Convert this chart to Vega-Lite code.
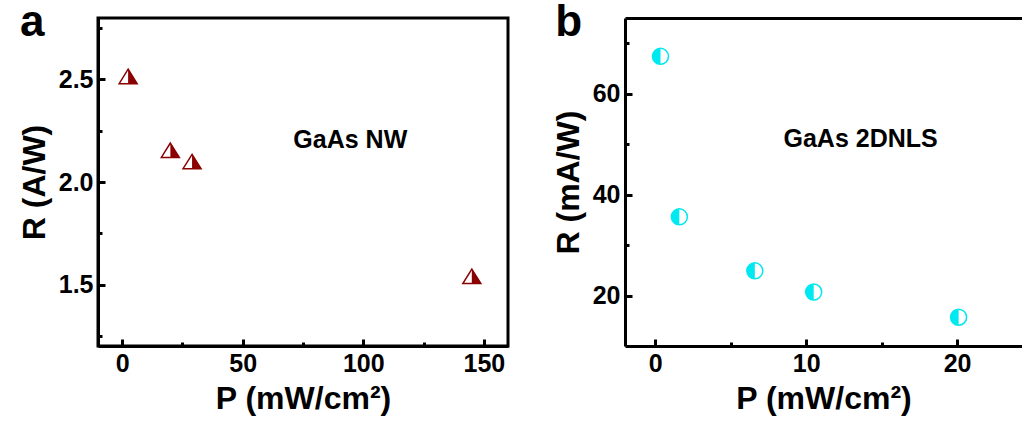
{
  "$schema": "https://vega.github.io/schema/vega-lite/v6.json",
  "background": "white",
  "padding": {"left": 16, "top": -1, "right": 0, "bottom": 0},
  "spacing": 42,
  "datasets": {
    "nw": [
      {"P": 2.5, "R": 2.515},
      {"P": 20, "R": 2.155},
      {"P": 29, "R": 2.1},
      {"P": 145, "R": 1.54}
    ],
    "nls": [
      {"P": 0.35, "R": 67.4},
      {"P": 1.6, "R": 35.6},
      {"P": 6.6, "R": 24.9},
      {"P": 10.5, "R": 20.7},
      {"P": 20.1, "R": 15.7}
    ],
    "labA": [{"P": 71, "R": 2.165, "t": "GaAs NW"}],
    "labB": [{"P": 8.5, "R": 49.4, "t": "GaAs 2DNLS"}],
    "panA": [{"P": -42.3, "R": 2.712, "t": "a"}],
    "panB": [{"P": -6.62, "R": 71.4, "t": "b"}]
  },
  "hconcat": [
    {
      "width": 410,
      "height": 328,
      "encoding": {
        "x": {"field": "P", "type": "quantitative", "scale": {"domain": [-10, 160], "nice": false, "zero": false},
          "axis": {"title": "P (mW/cm²)", "values": [0, 25, 50, 75, 100, 125, 150],
            "labelExpr": "datum.value % 50 == 0 ? datum.label : ''",
            "tickSize": {"condition": {"test": "datum.value % 50 != 0", "value": -4}, "value": -7}}},
        "y": {"field": "R", "type": "quantitative", "scale": {"domain": [1.2, 2.8], "nice": false, "zero": false},
          "axis": {"title": "R (A/W)", "values": [1.25, 1.5, 1.75, 2.0, 2.25, 2.5, 2.75],
            "labelExpr": "datum.value % 0.5 == 0 ? format(datum.value, '.1f') : ''",
            "tickSize": {"condition": {"test": "datum.value % 0.5 != 0", "value": -4}, "value": -7}}}
      },
      "layer": [
        {"data": {"name": "nw"}, "mark": {"type": "point", "shape": "M0,-0.8L1,0.8L-1,0.8Z", "size": 324, "filled": true, "fill": "white", "stroke": "#8b0000", "strokeWidth": 1.5, "opacity": 1}},
        {"data": {"name": "nw"}, "mark": {"type": "point", "shape": "M0,-0.8L1,0.8L0,0.8Z", "size": 324, "filled": true, "fill": "#8b0000", "strokeWidth": 0, "opacity": 1}},
        {"data": {"name": "labA"}, "mark": {"type": "text", "align": "left", "baseline": "alphabetic", "fontSize": 25, "fontWeight": "bold", "font": "Liberation Sans", "color": "black"},
          "encoding": {"text": {"field": "t"}}},
        {"data": {"name": "panA"}, "mark": {"type": "text", "align": "left", "baseline": "alphabetic", "fontSize": 44, "fontWeight": "bold", "font": "Liberation Sans", "color": "black"},
          "encoding": {"text": {"field": "t"}}}
      ]
    },
    {
      "width": 397,
      "height": 328,
      "view": {"stroke": null},
      "resolve": {"axis": {"x": "independent"}},
      "layer": [
        {"data": {"name": "nls"},
          "mark": {"type": "point", "shape": "circle", "size": 256, "filled": true, "fill": "white", "stroke": "#00e8f0", "strokeWidth": 1.5, "opacity": 1},
          "encoding": {
            "x": {"field": "P", "type": "quantitative", "scale": {"domain": [-2, 24.3], "nice": false, "zero": false},
              "axis": {"title": "P (mW/cm²)", "values": [0, 5, 10, 15, 20],
                "labelExpr": "datum.value % 10 == 0 ? datum.label : ''",
                "tickSize": {"condition": {"test": "datum.value % 10 != 0", "value": -4}, "value": -7}}},
            "y": {"field": "R", "type": "quantitative", "scale": {"domain": [10, 75], "nice": false, "zero": false},
              "axis": {"title": "R (mA/W)", "values": [20, 30, 40, 50, 60, 70],
                "labelExpr": "datum.value % 20 == 0 ? datum.label : ''",
                "tickSize": {"condition": {"test": "datum.value % 20 != 0", "value": -4}, "value": -7}}}
          }},
        {"data": {"name": "nls"},
          "mark": {"type": "point", "shape": "M0,-1A1,1,0,0,0,0,1Z", "size": 256, "filled": true, "fill": "#00e8f0", "strokeWidth": 0, "opacity": 1},
          "encoding": {
            "x": {"field": "P", "type": "quantitative", "axis": {"orient": "top", "title": null, "labels": false, "ticks": false}},
            "y": {"field": "R", "type": "quantitative"}
          }},
        {"data": {"name": "labB"}, "mark": {"type": "text", "align": "left", "baseline": "alphabetic", "fontSize": 25, "fontWeight": "bold", "font": "Liberation Sans", "color": "black"},
          "encoding": {
            "x": {"field": "P", "type": "quantitative", "axis": null},
            "y": {"field": "R", "type": "quantitative"},
            "text": {"field": "t"}}},
        {"data": {"name": "panB"}, "mark": {"type": "text", "align": "left", "baseline": "alphabetic", "fontSize": 44, "fontWeight": "bold", "font": "Liberation Sans", "color": "black"},
          "encoding": {
            "x": {"field": "P", "type": "quantitative", "axis": null},
            "y": {"field": "R", "type": "quantitative"},
            "text": {"field": "t"}}}
      ]
    }
  ],
  "config": {
    "font": "Liberation Sans",
    "view": {"stroke": "black", "strokeWidth": 3},
    "axis": {
      "grid": false,
      "domainColor": "black", "domainWidth": 3,
      "tickColor": "black", "tickWidth": 3,
      "labelFont": "Liberation Sans", "labelFontSize": 25, "labelFontWeight": "bold", "labelColor": "black",
      "labelPadding": 12,
      "titleFont": "Liberation Sans", "titleFontSize": 32, "titleFontWeight": "bold", "titleColor": "black",
      "titlePadding": 7
    }
  }
}
